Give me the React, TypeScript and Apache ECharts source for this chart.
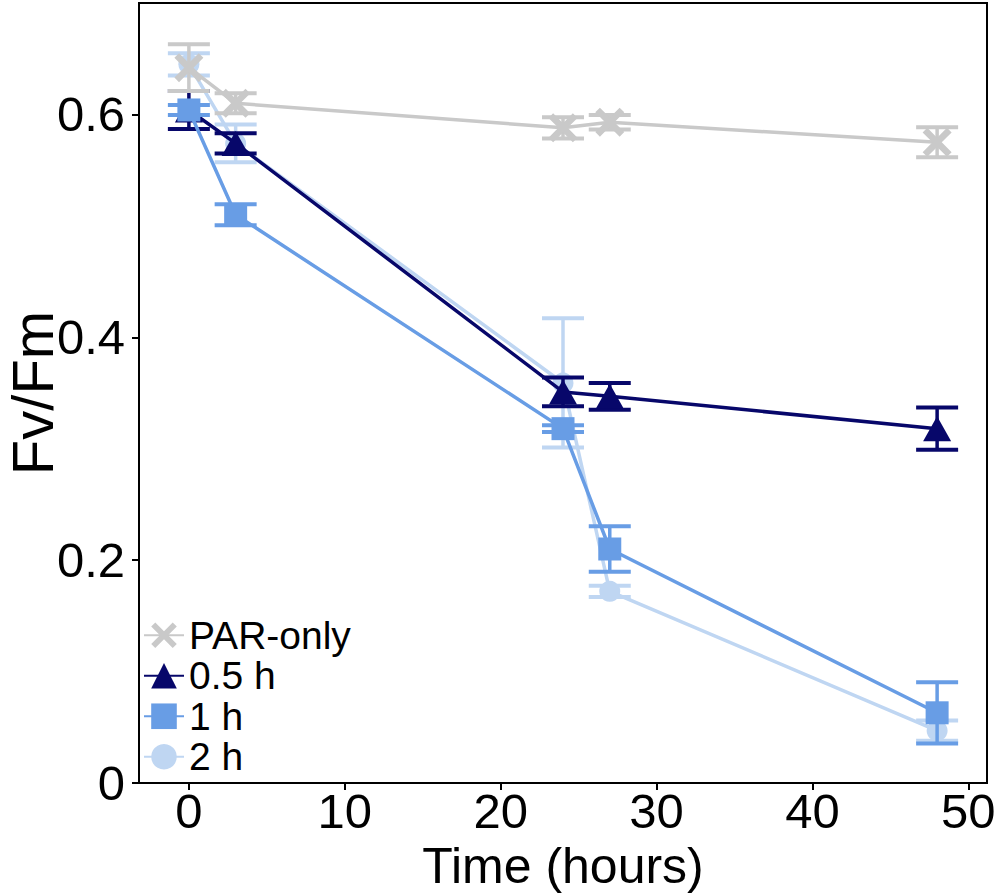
import React, { useEffect, useRef } from "react";
import * as echarts from "echarts";

const times = [0, 3, 24, 27, 48];
const seriesNames = ["PAR-only", "0.5 h", "1 h", "2 h"];
const parMean = [0.642, 0.61, 0.588, 0.593, 0.575];
const parErr = [0.021, 0.009, 0.0095, 0.0065, 0.0135];
const h05Mean = [0.604, 0.574, 0.351, 0.347, 0.318];
const h05Err = [0.017, 0.009, 0.013, 0.012, 0.019];
const h1Mean = [0.604, 0.51, 0.318, 0.21, 0.063];
const h1Err = [0.0045, 0.0095, 0.003, 0.0205, 0.0275];
const h2Mean = [0.645, 0.574, 0.359, 0.172, 0.047];
const h2Err = [0.01, 0.017, 0.058, 0.005, 0.009];
const xTicks = [0, 10, 20, 30, 40, 50];
const yTicks = [0, 0.2, 0.4, 0.6];

const FONT = "'Liberation Sans', Arial, sans-serif";
const X_PATH =
  "path://M0,1.6 L1.6,0 L5,3.4 L8.4,0 L10,1.6 L6.6,5 L10,8.4 L8.4,10 L5,6.6 L1.6,10 L0,8.4 L3.4,5 Z";

export default function App() {
  const ref = useRef<HTMLDivElement>(null);
  useEffect(() => {
    if (!ref.current) return;
    const chart = echarts.init(ref.current, null, { renderer: "svg" });

    const groups = [
      { name: "2 h", mean: h2Mean, err: h2Err, color: "#BFD6F2", symbol: "circle", size: 21, z: 2 },
      { name: "0.5 h", mean: h05Mean, err: h05Err, color: "#07076A", symbol: "triangle", size: [28, 25], z: 3 },
      { name: "1 h", mean: h1Mean, err: h1Err, color: "#689DE5", symbol: "rect", size: 23, z: 4 },
      { name: "PAR-only", mean: parMean, err: parErr, color: "#C9C9C9", symbol: X_PATH, size: 29, z: 5 },
    ];

    const series: any[] = [];
    groups.forEach((g) => {
      series.push({
        name: g.name,
        type: "line",
        z: g.z,
        data: times.map((t, i) => [t, g.mean[i]]),
        symbol: g.symbol,
        symbolSize: g.size,
        lineStyle: { color: g.color, width: 3.5 },
        itemStyle: { color: g.color },
        emphasis: { disabled: true },
      });
      series.push({
        name: g.name + " err",
        type: "custom",
        z: g.z,
        data: times.map((t, i) => [t, g.mean[i] - g.err[i], g.mean[i] + g.err[i]]),
        encode: { x: 0, y: [1, 2] },
        renderItem: (params: any, api: any) => {
          const x = api.value(0);
          const lo = api.coord([x, api.value(1)]);
          const hi = api.coord([x, api.value(2)]);
          const hw = 21;
          const st = { stroke: g.color, lineWidth: 4 };
          return {
            type: "group",
            children: [
              { type: "line", shape: { x1: hi[0], y1: hi[1], x2: lo[0], y2: lo[1] }, style: { stroke: g.color, lineWidth: 3.5 } },
              { type: "line", shape: { x1: hi[0] - hw, y1: hi[1], x2: hi[0] + hw, y2: hi[1] }, style: st },
              { type: "line", shape: { x1: lo[0] - hw, y1: lo[1], x2: lo[0] + hw, y2: lo[1] }, style: st },
            ],
          };
        },
      });
    });

    chart.setOption({
      animation: false,
      backgroundColor: "#ffffff",
      grid: {
        left: 139,
        right: 11,
        top: 3,
        bottom: 112,
        show: true,
        borderColor: "#000",
        borderWidth: 2,
        containLabel: false,
        outerBoundsMode: "none",
      },
      legend: {
        data: seriesNames,
        orient: "vertical",
        left: 138,
        top: 610,
        itemWidth: 40,
        itemHeight: 32,
        itemGap: 0,
        padding: 5,
        textStyle: { fontSize: 39, fontFamily: FONT, color: "#000", lineHeight: 40.5 },
        selectedMode: false,
      },
      xAxis: {
        type: "value",
        min: -3.2,
        max: 51.2,
        name: "Time (hours)",
        nameLocation: "middle",
        nameGap: 60,
        nameMoveOverlap: false,
        nameTextStyle: { fontSize: 50, fontFamily: FONT, color: "#000", lineHeight: 46 },
        axisLine: { show: true, onZero: false, lineStyle: { color: "#000", width: 2 } },
        axisTick: { show: true, length: 7, lineStyle: { color: "#000", width: 2 }, customValues: xTicks },
        axisLabel: { fontSize: 49, fontFamily: FONT, color: "#000", margin: 8, lineHeight: 40, customValues: xTicks },
        splitLine: { show: false },
      },
      yAxis: {
        type: "value",
        min: 0,
        max: 0.7,
        name: "Fv/Fm",
        nameLocation: "middle",
        nameGap: 78,
        nameMoveOverlap: false,
        nameRotate: 90,
        nameTextStyle: { fontSize: 58, fontFamily: FONT, color: "#000", lineHeight: 58 },
        axisLine: { show: true, onZero: false, lineStyle: { color: "#000", width: 2 } },
        axisTick: { show: true, length: 7, lineStyle: { color: "#000", width: 2 }, customValues: yTicks },
        axisLabel: { fontSize: 49, fontFamily: FONT, color: "#000", margin: 14, customValues: yTicks },
        splitLine: { show: false },
      },
      series,
    });
    return () => chart.dispose();
  }, []);
  return <div ref={ref} style={{ position: "fixed", left: 0, top: 0, width: 998, height: 895 }} />;
}
